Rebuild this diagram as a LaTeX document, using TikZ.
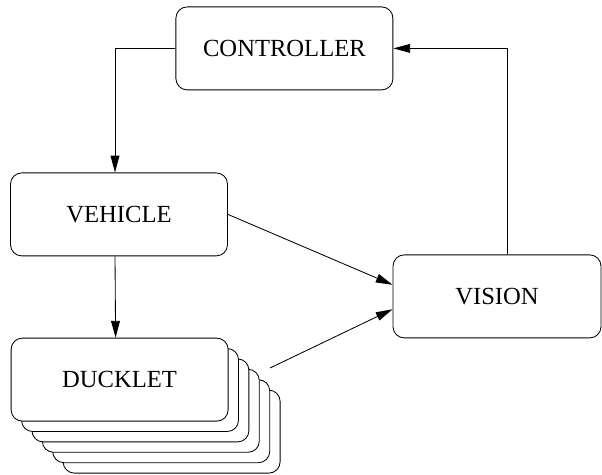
\documentclass[tikz,border=0pt]{standalone}
\usepackage{fontspec}
\setmainfont{Liberation Serif}
\usetikzlibrary{arrows.meta,positioning}

\begin{document}
\begin{tikzpicture}[
  box/.style={rectangle, draw, fill=white, minimum width=5.425cm,
              minimum height=2.075cm, font=\fontsize{17.5}{20}\selectfont,
              align=center, rounded corners=8pt, line width=0.6pt},
  arr/.style={-{Triangle[length=4.2mm, width=2.2mm]}, line width=0.6pt},
]
\useasboundingbox (0,0) rectangle (15.05,11.85);

% Controller (top)
\node[box] (ctrl) at (7.11,10.64) {CONTROLLER};

% Vehicle (left)
\node[box] (veh) at (2.975,6.49) {VEHICLE};

% Vision (right)
\node[box, minimum width=5.2cm] (vis) at (12.425,4.44) {VISION};

% Ducklet stack (back to front)
\coordinate (dk) at (2.99,2.36);
\node[box] (duck5) at ([shift={(1.30,-1.30)}]dk) {};
\node[box] (duck4) at ([shift={(1.04,-1.04)}]dk) {};
\node[box] (duck3) at ([shift={(0.78,-0.78)}]dk) {};
\node[box] (duck2) at ([shift={(0.52,-0.52)}]dk) {};
\node[box] (duck1) at ([shift={(0.26,-0.26)}]dk) {};
\node[box] (duck) at (dk) {DUCKLET};
\coordinate (duck-out) at (6.75,2.65);

% Arrows
\draw[arr] (ctrl.west) -| ([xshift=-0.1cm]veh.north);
\draw[arr] ([xshift=0.25cm]vis.north) |- (ctrl.east);
\draw[arr] (veh.east) -- ([yshift=0.29cm]vis.west);
\draw[arr] (duck-out) -- ([yshift=-0.32cm]vis.west);
\draw[arr] ([xshift=-0.1cm]veh.south) -- ([xshift=-0.1cm]duck.north);

\end{tikzpicture}
\end{document}
